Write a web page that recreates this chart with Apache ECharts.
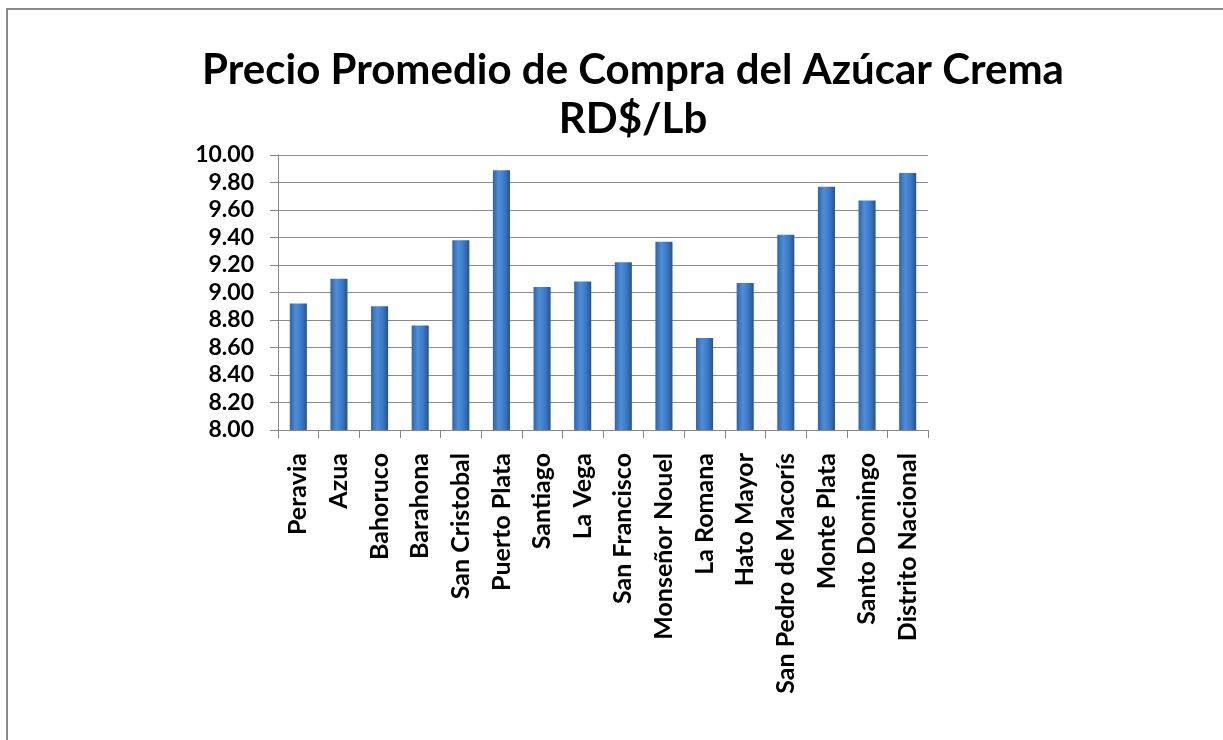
<!DOCTYPE html>
<html>
<head>
<meta charset="utf-8">
<script src="https://cdn.jsdelivr.net/npm/echarts@6/dist/echarts.min.js"></script>
<style>
  html, body { margin: 0; padding: 0; background: #ffffff; }
  #main { width: 1223px; height: 740px; }
</style>
</head>
<body>
<div id="main"></div>
<script>
// provincias y precio promedio (RD$/Lb)
var provincias = ['Peravia', 'Azua', 'Bahoruco', 'Barahona', 'San Cristobal', 'Puerto Plata',
  'Santiago', 'La Vega', 'San Francisco', 'Monseñor Nouel', 'La Romana', 'Hato Mayor',
  'San Pedro de Macorís', 'Monte Plata', 'Santo Domingo', 'Distrito Nacional'];
var precios = [8.92, 9.10, 8.90, 8.76, 9.38, 9.89, 9.04, 9.08, 9.22, 9.37, 8.67, 9.07,
  9.42, 9.77, 9.67, 9.87];
var ejeMin = 8.0;
var ejeMax = 10.0;
var ejePaso = 0.2;

var myChart = echarts.init(document.getElementById('main'));

var option = {
    animation: false,
    backgroundColor: '#ffffff',
    title: {
        text: 'Precio Promedio de Compra del Azúcar Crema\nRD$/Lb',
        left: 628,
        textAlign: 'center',
        top: 41,
        textStyle: {
            fontFamily: 'Lato',
            fontWeight: 'bold',
            fontSize: 42,
            lineHeight: 49,
            color: '#000000'
        }
    },
    graphic: [{
        // marco gris del gráfico
        type: 'rect',
        shape: { x: 7, y: 9, width: 1400, height: 900 },
        style: { fill: 'none', stroke: '#8a8a8a', lineWidth: 2 },
        silent: true
    }],
    grid: {
        left: 278,
        right: 295,
        top: 155,
        bottom: 310
    },
    xAxis: {
        type: 'category',
        data: provincias,
        axisLine: { lineStyle: { color: '#868686', width: 1 } },
        axisTick: { show: true, length: 8, lineStyle: { color: '#868686' } },
        axisLabel: {
            rotate: 90,
            interval: 0,
            margin: 23,
            fontFamily: 'Lato',
            fontWeight: 'bold',
            fontSize: 25,
            color: '#000000'
        }
    },
    yAxis: {
        type: 'value',
        min: ejeMin,
        max: ejeMax,
        interval: ejePaso,
        axisLine: { show: true, lineStyle: { color: '#868686', width: 1 } },
        axisTick: { show: true, length: 8, lineStyle: { color: '#868686' } },
        splitLine: { lineStyle: { color: '#8c8c8c', width: 1 } },
        axisLabel: {
            margin: 24,
            fontFamily: 'Lato',
            fontWeight: 'bold',
            fontSize: 23,
            color: '#000000',
            formatter: function (v) { return v.toFixed(2); }
        }
    },
    series: [{
        type: 'bar',
        data: precios,
        barWidth: '42%',
        itemStyle: {
            color: new echarts.graphic.LinearGradient(0, 0, 1, 0, [
                { offset: 0, color: '#2e64a8' },
                { offset: 0.35, color: '#4d8ed9' },
                { offset: 0.7, color: '#3b77c3' },
                { offset: 1, color: '#25528f' }
            ])
        }
    }]
};

option && myChart.setOption(option);
</script>
</body>
</html>
